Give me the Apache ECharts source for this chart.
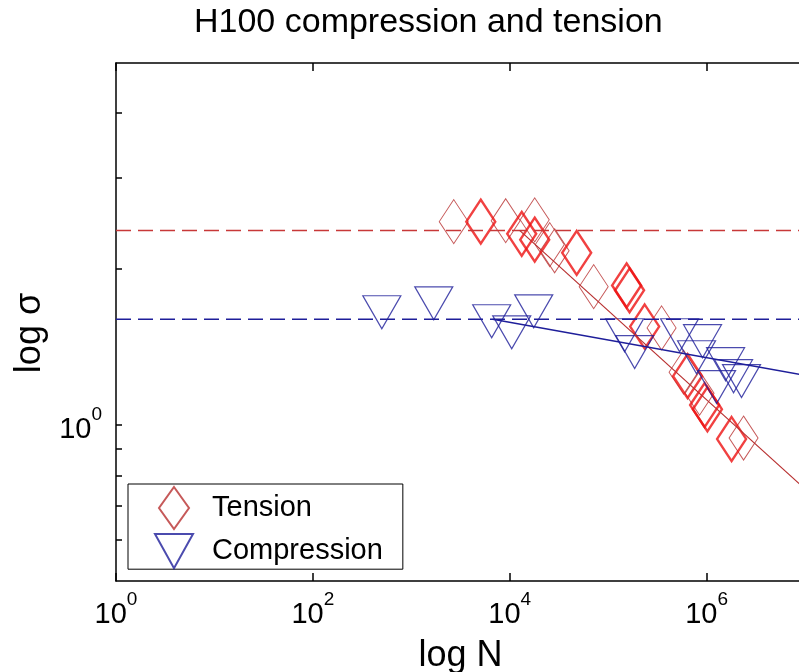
<!DOCTYPE html>
<html lang="en">
<head>
  <meta charset="UTF-8">
  <title>H100 compression and tension</title>
  <style>
    html, body { margin: 0; padding: 0; background: #fff; }
    #chart { width: 799px; height: 672px; }
  </style>
</head>
<body>
  <div id="chart"></div>
  <script src="https://cdn.jsdelivr.net/npm/echarts@6/dist/echarts.min.js"></script>
  <script>
    // tension points, thin outline
    const tensionN = [2700, 9100, 17950, 25500, 28600, 71300, 349000, 584000, 849000, 2376000]
    const tensionS = [2.47, 2.48, 2.49, 2.23, 2.17, 1.85, 1.54, 1.265, 1.152, 0.944]
    // tension points drawn heavier (overplotted)
    const tensionBoldN = [5080, 13240, 17950, 47900, 154000, 165000, 235000, 641000, 955000, 1020000, 1795000]
    const tensionBoldS = [2.47, 2.34, 2.28, 2.15, 1.86, 1.82, 1.55, 1.243, 1.093, 1.073, 0.940]
    // compression points
    const compN = [502, 1692, 6560, 10480, 17530, 147000, 186000, 532000, 910000, 791000, 1560000, 1880000, 1264000, 2265000]
    const compS = [1.651, 1.718, 1.586, 1.51, 1.658, 1.491, 1.383, 1.491, 1.452, 1.352, 1.311, 1.243, 1.184, 1.216]
    // fitted lines and limits
    const tensionFitN = [12600, 1e7]
    const tensionFitS = [2.376, 0.753]
    const compFitN = [6720, 1e7]
    const compFitS = [1.6, 1.247]
    const limitN = [1, 1e7]
    const tensionLimit = 2.376
    const compLimit = 1.6
    // ticks
    const xTicks = [1, 100, 1e4, 1e6]
    const yTicks = [0.6, 0.7, 0.8, 0.9, 1, 2, 3, 4]
    const yLabels = [1]

    const FONT = 'Liberation Sans'
    const RED = '#b83030'
    const RED_BOLD = '#ee1111'
    const BLUE = '#1e1e9a'
    const DIAMOND = 'path://M5,0L10,7L5,14L0,7Z'
    const TRI_DOWN = 'path://M0,0L10,0L5,9Z'

    const zip = (xs, ys) => xs.map((x, i) => [x, ys[i]])

    function powLabel(v) {
      return '{b|10}{s|' + Math.round(Math.log10(v)) + '}'
    }
    const labelRich = {
      b: { fontSize: 29, fontFamily: FONT, color: '#000', padding: [10, 0, 0, 0] },
      s: { fontSize: 19, fontFamily: FONT, color: '#000', verticalAlign: 'top' }
    }

    const chart = echarts.init(document.getElementById('chart'))
    chart.setOption({
      animation: false,
      backgroundColor: '#fff',
      title: {
        text: 'H100 compression and tension',
        left: 189,
        top: 1,
        textStyle: { fontFamily: FONT, fontSize: 34, fontWeight: 'normal', color: '#000' }
      },
      grid: { left: 116, top: 63, right: -6, bottom: 91, outerBoundsMode: 'none', containLabel: false },
      legend: {
        orient: 'vertical',
        left: 128,
        top: 484,
        data: ['Tension', 'Compression'],
        itemWidth: 38,
        itemHeight: 42,
        itemGap: 3,
        padding: [2, 20, 0, 26],
        borderColor: '#000',
        borderWidth: 1,
        backgroundColor: '#fff',
        borderRadius: 0,
        textStyle: { fontFamily: FONT, fontSize: 29, color: '#000', padding: [0, 0, 0, 14] },
        selectedMode: false
      },
      xAxis: [{
        type: 'log',
        logBase: 10,
        min: 1,
        max: 1e7,
        position: 'bottom',
        name: 'log N',
        nameLocation: 'middle',
        nameGap: 57,
        nameTextStyle: { fontFamily: FONT, fontSize: 36, color: '#000' },
        axisLine: { lineStyle: { color: '#000', width: 1.5 } },
        axisTick: { inside: true, length: 8, customValues: xTicks, lineStyle: { color: '#000', width: 1.5 } },
        axisLabel: { customValues: xTicks, formatter: powLabel, rich: labelRich, margin: 9 },
        splitLine: { show: false },
        minorTick: { show: false }
      }, {
        type: 'log',
        logBase: 10,
        min: 1,
        max: 1e7,
        position: 'top',
        axisLine: { lineStyle: { color: '#000', width: 1.5 } },
        axisTick: { inside: true, length: 8, customValues: xTicks, lineStyle: { color: '#000', width: 1.5 } },
        axisLabel: { show: false },
        splitLine: { show: false }
      }],
      yAxis: {
        type: 'log',
        logBase: 10,
        min: 0.5,
        max: 5,
        name: 'log σ',
        nameLocation: 'middle',
        nameGap: 68,
        nameTextStyle: { fontFamily: FONT, fontSize: 36, color: '#000', padding: [0, 22, 0, 0] },
        axisLine: { show: true, lineStyle: { color: '#000', width: 1.5 } },
        axisTick: { inside: true, length: 6, customValues: yTicks, lineStyle: { color: '#000', width: 1.5 } },
        axisLabel: { customValues: yLabels, formatter: powLabel, rich: labelRich, margin: 14 },
        splitLine: { show: false }
      },
      series: [
        {
          name: 'Tension',
          type: 'scatter',
          symbol: DIAMOND,
          symbolSize: [29, 44],
          itemStyle: { color: 'rgba(0,0,0,0)', borderColor: RED, borderWidth: 1 },
          emphasis: { disabled: true },
          data: zip(tensionN, tensionS)
        },
        {
          name: 'Tension (overplotted)',
          type: 'scatter',
          symbol: DIAMOND,
          symbolSize: [29, 44],
          itemStyle: { color: 'rgba(0,0,0,0)', borderColor: RED_BOLD, borderWidth: 2.5 },
          emphasis: { disabled: true },
          data: zip(tensionBoldN, tensionBoldS)
        },
        {
          name: 'Compression',
          type: 'scatter',
          symbol: TRI_DOWN,
          symbolSize: [38, 33],
          itemStyle: { color: 'rgba(0,0,0,0)', borderColor: BLUE, borderWidth: 1.2 },
          emphasis: { disabled: true },
          data: zip(compN, compS)
        },
        {
          type: 'line',
          symbol: 'none',
          silent: true,
          lineStyle: { color: '#c83838', width: 1.5, type: [15, 7] },
          data: zip(limitN, [tensionLimit, tensionLimit])
        },
        {
          type: 'line',
          symbol: 'none',
          silent: true,
          lineStyle: { color: BLUE, width: 1.5, type: [15, 7] },
          data: zip(limitN, [compLimit, compLimit])
        },
        {
          type: 'line',
          symbol: 'none',
          silent: true,
          lineStyle: { color: RED, width: 1.2 },
          data: zip(tensionFitN, tensionFitS)
        },
        {
          type: 'line',
          symbol: 'none',
          silent: true,
          lineStyle: { color: BLUE, width: 1.5 },
          data: zip(compFitN, compFitS)
        }
      ]
    })
  </script>
</body>
</html>
